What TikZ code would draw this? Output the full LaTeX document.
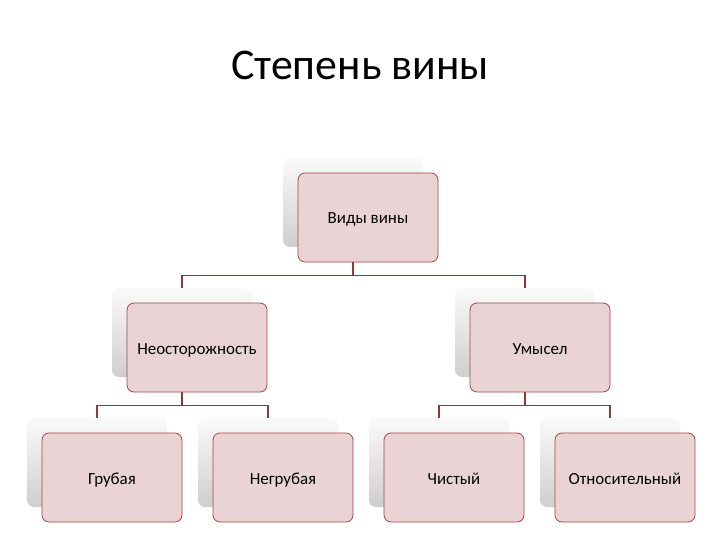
\documentclass[tikz,border=0pt]{standalone}
\usepackage{fontspec}
\setmainfont{Carlito}
\usetikzlibrary{positioning,calc}
\definecolor{boxpink}{HTML}{EAD3D4}
\definecolor{boxline}{HTML}{A84547}
\definecolor{connline}{HTML}{953735}
\tikzset{back/.style={rounded corners=7bp,minimum width=140bp,minimum height=89bp,top color=gray!4,bottom color=gray!38,draw=none}}
\tikzset{front/.style={rounded corners=7bp,minimum width=140bp,minimum height=89bp,fill=boxpink,draw=boxline,line width=0.8bp,text height=13bp,text depth=0bp,font=\fontsize{17}{19}\selectfont}}
\tikzset{conn/.style={draw=connline,line width=1.5bp}}

\begin{document}
\begin{tikzpicture}[x=1bp,y=-1bp]
  \useasboundingbox (0,0) rectangle (720,540);
  \node[anchor=base,font=\fontsize{44}{48}\selectfont] (title) at (360,80) {Степень вины};

  % shaded boxes behind
  \node[back] (vidy-sh) at (353,202.5) {};
  \node[back] (neo-sh) at (182,332.5) {};
  \node[back] (um-sh) at (525,332.5) {};
  \node[back] (gr-sh) at (97,462.5) {};
  \node[back] (ngr-sh) at (268,462.5) {};
  \node[back] (ch-sh) at (439,462.5) {};
  \node[back] (ot-sh) at (610,462.5) {};

  % boxes with text
  \node[front] (vidy) at ([shift={(15,15)}]vidy-sh) {Виды вины};
  \node[front] (neo) at ([shift={(15,15)}]neo-sh) {Неосторожность};
  \node[front] (um) at ([shift={(15,15)}]um-sh) {Умысел};
  \node[front] (gr) at ([shift={(15,15)}]gr-sh) {Грубая};
  \node[front] (ngr) at ([shift={(15,15)}]ngr-sh) {Негрубая};
  \node[front] (ch) at ([shift={(15,15)}]ch-sh) {Чистый};
  \node[front] (ot) at ([shift={(15,15)}]ot-sh) {Относительный};

  \draw[conn] (vidy-sh |- vidy.south) -- ++(0,13) -| (neo-sh.north);
  \draw[conn] (vidy-sh |- vidy.south) -- ++(0,13) -| (um-sh.north);
  \draw[conn] (neo-sh |- neo.south) -- ++(0,13) -| (gr-sh.north);
  \draw[conn] (neo-sh |- neo.south) -- ++(0,13) -| (ngr-sh.north);
  \draw[conn] (um-sh |- um.south) -- ++(0,13) -| (ch-sh.north);
  \draw[conn] (um-sh |- um.south) -- ++(0,13) -| (ot-sh.north);
\end{tikzpicture}
\end{document}
